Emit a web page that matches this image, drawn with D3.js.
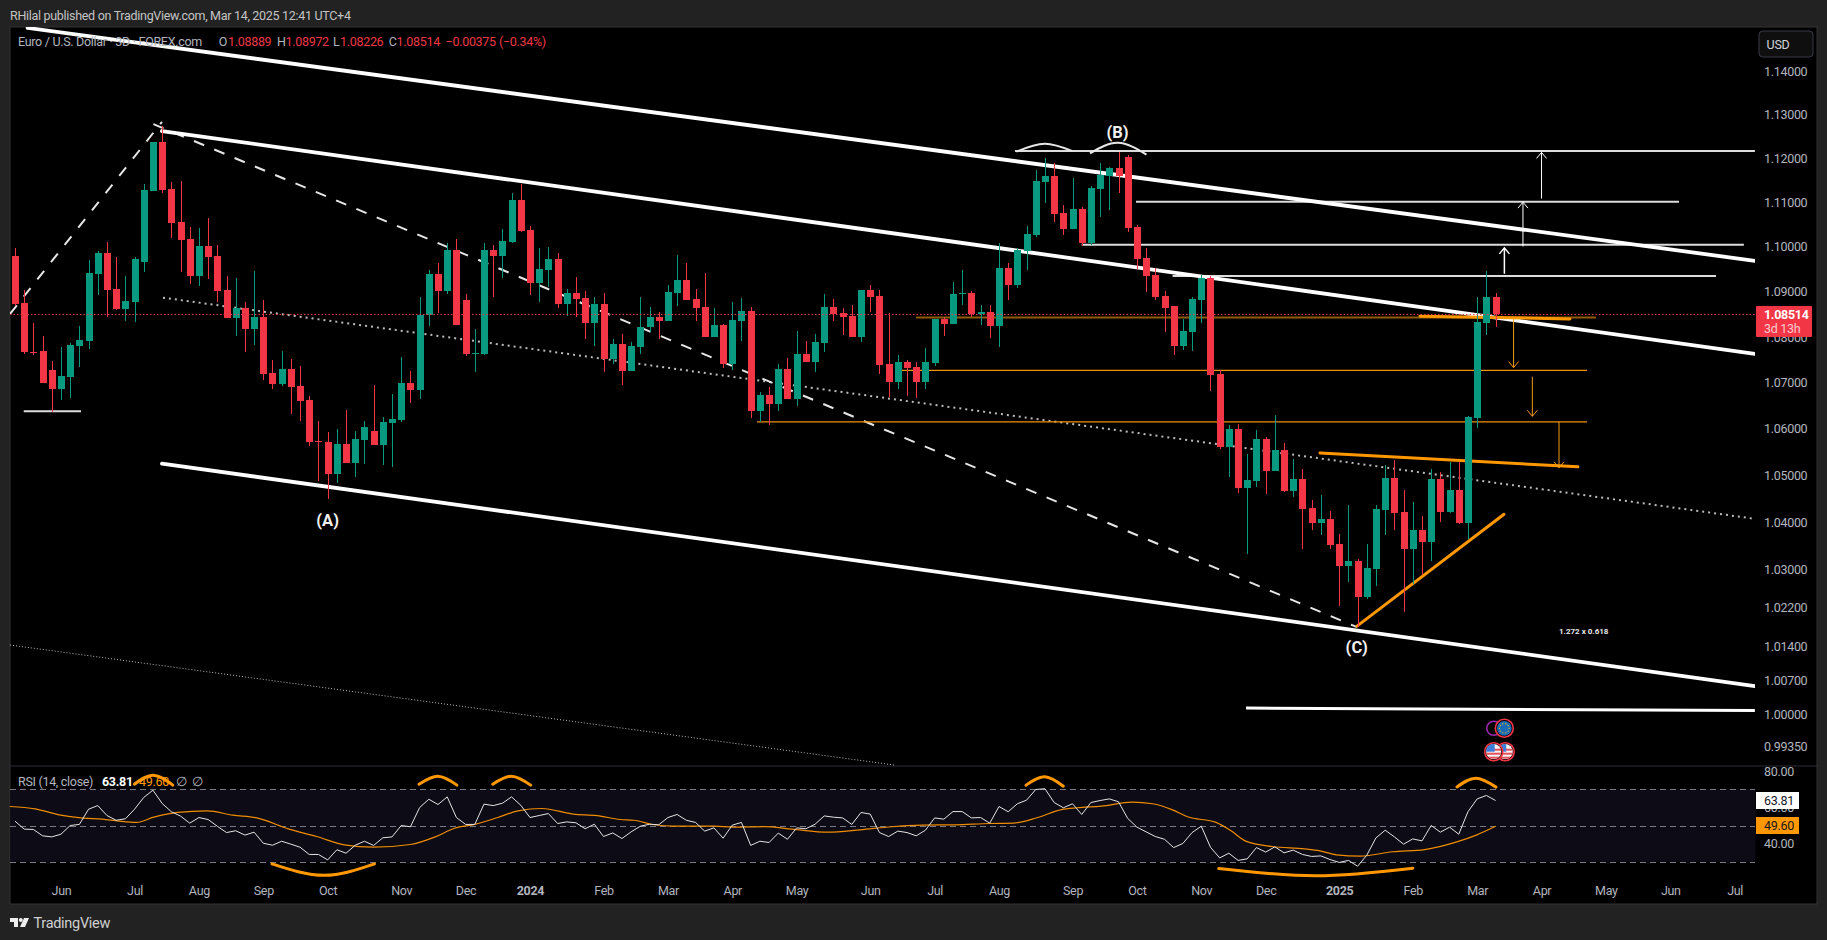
<!DOCTYPE html>
<html><head><meta charset="utf-8">
<script src="https://cdn.jsdelivr.net/npm/d3@7"></script>
<style>
html,body{margin:0;padding:0;background:#222222;overflow:hidden}
svg{display:block}
text{font-family:Roboto,"Liberation Sans",sans-serif;font-size:12.5px;letter-spacing:-.3px;fill:#b2b5be}
</style></head><body>
<svg id="c" width="1827" height="940"></svg>
<script>
// ---------- candle data (one 3D bar per position) ----------
const opens=[1.0980,1.0875,1.0767,1.0770,1.0728,1.0686,1.0713,1.0780,1.0791,1.0940,1.0986,1.0906,1.0862,1.0878,1.0966,1.1127,1.1238,1.1131,1.1056,1.1018,1.0935,1.1002,1.0980,1.0904,1.0843,1.0865,1.0818,1.0845,1.0721,1.0697,1.0730,1.0693,1.0662,1.0574,1.0571,1.0503,1.0567,1.0526,1.0576,1.0595,1.0565,1.0612,1.0619,1.0699,1.0684,1.0849,1.0940,1.0902,1.0993,1.0882,1.0763,1.0763,1.0993,1.0980,1.1011,1.1106,1.1038,1.0920,1.0949,1.0973,1.0873,1.0897,1.0886,1.0832,1.0873,1.0752,1.0785,1.0726,1.0778,1.0821,1.0845,1.0836,1.0897,1.0926,1.0884,1.0867,1.0801,1.0827,1.0741,1.0836,1.0858,1.0638,1.0673,1.0653,1.0730,1.0664,1.0763,1.0746,1.0787,1.0867,1.0853,1.0847,1.0801,1.0904,1.0891,1.0741,1.0702,1.0746,1.0735,1.0702,1.0743,1.0840,1.0829,1.0896,1.0897,1.0851,1.0856,1.0825,1.0953,1.0915,1.0991,1.1027,1.1147,1.1161,1.1076,1.1040,1.1086,1.1009,1.1131,1.1161,1.1179,1.1204,1.1045,1.0975,1.0938,1.0891,1.0869,1.0780,1.0812,1.0882,1.0931,1.0719,1.0560,1.0599,1.0473,1.0488,1.0578,1.0509,1.0554,1.0467,1.0492,1.0430,1.0398,1.0407,1.0354,1.0307,1.0318,1.0242,1.0301,1.0426,1.0494,1.0422,1.0343,1.0383,1.0358,1.0492,1.0422,1.0469,1.0398,1.0623,1.0832,1.08889];
const highs=[1.0998,1.0904,1.0832,1.0803,1.0748,1.0778,1.0787,1.0825,1.0971,1.0991,1.1011,1.0977,1.0935,1.0977,1.1141,1.1238,1.1274,1.1147,1.1150,1.1045,1.1042,1.1065,1.1005,1.0935,1.0931,1.0878,1.0947,1.0882,1.0750,1.0770,1.0752,1.0737,1.0671,1.0617,1.0593,1.0599,1.0641,1.0595,1.0617,1.0695,1.0626,1.0675,1.0757,1.0726,1.0889,1.0949,1.0964,1.1009,1.1018,1.0895,1.0818,1.1009,1.1005,1.1040,1.1122,1.1141,1.1047,1.0998,1.1000,1.0986,1.0906,1.0933,1.0902,1.0889,1.0897,1.0796,1.0807,1.0789,1.0889,1.0867,1.0856,1.0915,1.0982,1.0964,1.0906,1.0942,1.0865,1.0829,1.0878,1.0886,1.0867,1.0680,1.0691,1.0741,1.0754,1.0814,1.0791,1.0807,1.0895,1.0884,1.0865,1.0871,1.0904,1.0915,1.0904,1.0853,1.0761,1.0750,1.0746,1.0776,1.0840,1.0845,1.0922,1.0949,1.0902,1.0871,1.0871,1.1009,1.0964,1.0998,1.1047,1.1174,1.1202,1.1190,1.1095,1.1156,1.1090,1.1138,1.1190,1.1181,1.1215,1.1209,1.1049,1.0998,1.0953,1.0902,1.0869,1.0840,1.0889,1.0938,1.0935,1.0728,1.0608,1.0610,1.0545,1.0597,1.0582,1.0630,1.0569,1.0535,1.0513,1.0447,1.0458,1.0424,1.0375,1.0437,1.0322,1.0354,1.0437,1.0522,1.0533,1.0469,1.0443,1.0413,1.0513,1.0507,1.0528,1.0528,1.0628,1.0889,1.0947,1.08972];
const lows=[1.0869,1.0763,1.0761,1.0699,1.0636,1.0662,1.0666,1.0735,1.0774,1.0893,1.0845,1.0860,1.0836,1.0834,1.0944,1.1127,1.1122,1.1020,1.0944,1.0917,1.0913,1.0929,1.0878,1.0843,1.0803,1.0767,1.0783,1.0706,1.0686,1.0693,1.0632,1.0617,1.0563,1.0488,1.0449,1.0484,1.0526,1.0496,1.0524,1.0565,1.0522,1.0518,1.0615,1.0656,1.0664,1.0825,1.0853,1.0895,1.0827,1.0759,1.0724,1.0761,1.0889,1.0931,1.1009,1.1034,1.0893,1.0878,1.0911,1.0865,1.0847,1.0845,1.0796,1.0780,1.0724,1.0741,1.0695,1.0726,1.0763,1.0812,1.0796,1.0836,1.0869,1.0882,1.0836,1.0801,1.0801,1.0732,1.0728,1.0791,1.0623,1.0615,1.0608,1.0638,1.0664,1.0649,1.0746,1.0724,1.0767,1.0836,1.0805,1.0801,1.0789,1.0856,1.0719,1.0669,1.0686,1.0671,1.0666,1.0686,1.0737,1.0803,1.0829,1.0871,1.0845,1.0827,1.0798,1.0778,1.0882,1.0908,1.0949,1.1022,1.1099,1.1056,1.1027,1.1040,1.1002,1.1005,1.1067,1.1083,1.1122,1.1034,1.0951,1.0900,1.0882,1.0812,1.0761,1.0772,1.0770,1.0832,1.0682,1.0556,1.0496,1.0462,1.0333,1.0475,1.0460,1.0509,1.0464,1.0454,1.0343,1.0383,1.0373,1.0343,1.0224,1.0274,1.0181,1.0238,1.0265,1.0373,1.0383,1.0211,1.0270,1.0288,1.0318,1.0400,1.0420,1.0396,1.0364,1.0601,1.0805,1.08226];
const closes=[1.0873,1.0767,1.0766,1.0699,1.0686,1.0715,1.0783,1.0793,1.0942,1.0986,1.0904,1.0862,1.0880,1.0973,1.1129,1.1238,1.1129,1.1054,1.1016,1.0935,1.1002,1.0977,1.0902,1.0843,1.0865,1.0818,1.0845,1.0719,1.0697,1.0730,1.0691,1.0660,1.0571,1.0573,1.0503,1.0567,1.0526,1.0578,1.0604,1.0565,1.0615,1.0621,1.0699,1.0684,1.0849,1.0940,1.0902,1.0993,1.0827,1.0763,1.0765,1.0993,1.0980,1.1013,1.1106,1.1036,1.0920,1.0951,1.0973,1.0873,1.0897,1.0884,1.0832,1.0873,1.0752,1.0785,1.0726,1.0780,1.0823,1.0845,1.0836,1.0900,1.0926,1.0882,1.0865,1.0801,1.0827,1.0741,1.0838,1.0858,1.0638,1.0673,1.0653,1.0730,1.0664,1.0763,1.0746,1.0789,1.0867,1.0851,1.0845,1.0801,1.0904,1.0889,1.0739,1.0702,1.0746,1.0732,1.0702,1.0746,1.0840,1.0829,1.0895,1.0897,1.0851,1.0856,1.0825,1.0953,1.0915,1.0993,1.1029,1.1150,1.1161,1.1074,1.1040,1.1086,1.1009,1.1134,1.1163,1.1179,1.1161,1.1042,1.0973,1.0935,1.0889,1.0865,1.0780,1.0814,1.0884,1.0931,1.0717,1.0560,1.0599,1.0473,1.0490,1.0578,1.0509,1.0554,1.0467,1.0492,1.0428,1.0398,1.0407,1.0352,1.0307,1.0318,1.0242,1.0303,1.0428,1.0494,1.0420,1.0343,1.0383,1.0358,1.0492,1.0422,1.0469,1.0398,1.0626,1.0834,1.0889,1.08514];
// ---------- RSI data ----------
const rsiValues=[52.4,48.0,47.8,44.3,43.7,45.2,50.0,50.6,59.0,61.0,55.5,52.9,53.7,59.0,65.5,69.5,62.2,57.6,55.2,51.3,54.4,53.3,49.6,46.1,47.1,44.7,46.3,40.2,39.1,41.3,39.7,38.0,34.0,34.0,31.0,36.6,34.7,39.1,41.3,39.0,43.2,43.7,50.0,49.3,59.9,64.5,61.6,65.8,54.4,50.6,50.6,61.8,61.0,62.3,65.8,61.2,54.4,55.5,56.6,51.1,52.0,51.5,48.2,50.7,43.9,45.9,42.8,46.5,49.6,50.7,50.4,54.4,56.1,52.9,51.7,46.9,48.7,43.0,50.2,51.7,39.0,41.3,40.6,45.8,42.4,48.7,48.2,50.7,55.3,54.6,54.2,50.6,57.2,56.3,46.1,43.9,46.9,46.1,44.3,47.4,54.2,53.5,57.7,57.7,54.2,54.4,51.3,60.5,57.6,62.0,64.0,69.9,70.3,62.7,59.8,62.0,56.1,62.7,63.8,64.7,63.1,53.9,49.1,46.5,43.9,42.4,37.8,40.1,46.1,49.6,38.0,32.1,34.7,30.7,31.6,37.8,35.3,38.2,34.9,36.4,34.0,32.9,33.2,31.2,29.6,30.7,27.5,33.6,43.2,47.4,43.7,39.7,42.6,41.5,50.0,46.3,49.1,45.2,57.6,64.7,66.6,63.81];
const rsiMaBars=[-0.56,2.2,4.8,7.4,9.5,11.3,13.2,15.1,17.7,20.9,23.7,26.3,29.8,32.8,35.8,39,43,45.7,47.8,50,52.5,54.7,57.3,60.7,63.3,65.8,67.3,69.5,71.6,76,78.1,81.5,84.5,88.4,91.9,95.3,98.7,102.2,106,108.6,111.2,113.8,115.5,118.1,121.5,123.7,125.8,127.5,130.6,132.2,133.9,136.7,140.2,141.9,143.7,146.3,149.8,153.3,156.7,158.9,161];
const rsiMaValues=[60.5,59.2,55.9,54.1,53.5,52.4,51.7,54.6,57.2,58.1,55.7,54.2,48.0,43.9,39.3,38,39.5,43.7,48.5,50.6,54.4,58.1,59.4,56.3,55.5,53.3,52.9,50.4,49.6,49.6,49.1,49.4,48.0,46.3,47.6,49.3,50.2,50.4,51.1,51.3,54.4,58.8,59.8,60.7,62.9,62.0,58.8,54.8,51.7,47.2,41.2,38.4,37.1,36,33.8,33.1,35.5,36.7,40.8,44.7,49.6];
const rsiBands=[70,50,30];
// ---------- axis labels ----------
const priceTicks=[1.14,1.13,1.12,1.11,1.10,1.09,1.08,1.07,1.06,1.05,1.04,1.03,1.022,1.014,1.007,1.00,0.9935];
const rsiTicks=[80,60,40];
const timeBars=[5,13,20,27,34,42,49,56,64,71,78,85,93,100,107,115,122,129,136,144,152,159,166,173,180,187];
const timeLabels=["Jun","Jul","Aug","Sep","Oct","Nov","Dec","2024","Feb","Mar","Apr","May","Jun","Jul","Aug","Sep","Oct","Nov","Dec","2025","Feb","Mar","Apr","May","Jun","Jul"];
// ---------- drawings as [bar, price] ----------
const channelLines=[[[1.38,1.1502],[189.2,1.0969]],[[15.98,1.1263],[189.2,1.0763]],[[15.98,1.0525],[189.2,1.00584]]];
const bottomLine=[[133.87,1.00136],[189.2,1.00085]];
const dashedLegs=[[[-0.54,1.0851],[15.98,1.1284]],[[15.05,1.1279],[145.93,1.01802]]];
const dottedMid=[[16.09,1.0887],[188.9,1.0408]];
const dottedLow=[[-0.54,1.0143],[95.65,0.98979]];
const whiteLevels=[[0.95,7.18,1.0638],[108.74,189.2,1.1217],[121.9,180.95,1.1102],[115.99,188.0,1.1005],[125.88,184.97,1.0935]];
const darkOrangeLevel=[97.98,171.92,1.0843];
const thinOrangeLevels=[[96.45,170.95,1.0727],[80.68,170.95,1.0615]];
const thickOrangeLines=[[[152.78,1.0846],[169.09,1.0840]],[[141.91,1.0548],[169.96,1.0518]],[[145.93,1.01822],[161.92,1.0417]]];
const whiteArrows=[[166.0,1.1109,1.1214,1],[163.98,1.1001,1.1101,1],[161.96,1.0940,1.0998,1.5]];
const orangeArrows=[[162.96,1.0840,1.0733],[165.0,1.0713,1.0627],[167.9,1.0615,1.0516]];
const whiteArcs=[[[108.9,1.1216],[111.98,1.1234],[115.0,1.1217]],[[116.9,1.1212],[119.94,1.1236],[123.04,1.1209]]];
const rsiArcs=[[[12.98,72.8],[15.05,77.8],[17.16,72.3]],[[43.93,72.8],[46.0,77.2],[48.06,72.3]],[[51.95,72.8],[54.0,77.2],[56.07,72.3]],[[27.95,28.8],[33.6,22.5],[39.09,28.8]],[[109.94,72.3],[111.98,76.9],[114.0,71.7]],[[130.9,26.2],[141.5,22.2],[152.0,26.4]],[[156.8,71.3],[158.87,76.1],[161.05,71.2]]];
const waveLabels=[["(A)",34,1.0401],["(B)",119.9,1.1256],["(C)",145.9,1.0135]];
const fibNote=["1.272 x 0.618",167.9,1.0170];
const legendParts=[["Euro / U.S. Dollar · 3D · FOREX.com",18,"#b2b5be"],["O",218.7,"#b2b5be"],["1.08889",228,"#f23645"],["H",277,"#b2b5be"],["1.08972",285.5,"#f23645"],["L",333,"#b2b5be"],["1.08226",340,"#f23645"],["C",388.7,"#b2b5be"],["1.08514",396.6,"#f23645"],["−0.00375",445.6,"#f23645"],["(−0.34%)",499,"#f23645"]];
const lastPrice=1.08514,rsiLast=63.81,maLast=49.60;

// ---------- layout & scales ----------
const GREEN="#089981",RED="#f23645",ORANGE="#ff9800";
const L=10,R=1755,T=27,PB=766,FR=1817,FB=904;
const x=d3.scaleLinear().domain([0,161]).range([15,15+9.196*161]);
const y=d3.scaleLog().domain([1.14,1.0]).range([71.7,714.7]);
const ry=d3.scaleLinear().domain([70,30]).range([789.3,861.7]);
const svg=d3.select("#c");
const defs=svg.append("defs");
defs.append("clipPath").attr("id","pane").append("rect").attr("x",L).attr("y",T).attr("width",R-L).attr("height",PB-T);
svg.append("rect").attr("x",L).attr("y",T).attr("width",FR-L).attr("height",FB-T).attr("fill","#000").attr("stroke","#333").attr("stroke-width",1);
svg.append("line").attr("x1",L).attr("x2",FR).attr("y1",PB).attr("y2",PB).attr("stroke","#2a2e39");

const pane=svg.append("g").attr("clip-path","url(#pane)");
const pline=d3.line().x(d=>x(d[0])).y(d=>y(d[1]));
const seg=(g,pts,col,w,dash,cap)=>g.append("path").attr("d",pline(pts)).attr("fill","none").attr("stroke",col).attr("stroke-width",w).attr("stroke-dasharray",dash||null).attr("stroke-linecap",cap||"butt");
seg(pane,dottedLow,"#bbb",1,"1 2");
seg(pane,dottedMid,"#bcbcbc",2,"2 4");
dashedLegs.forEach(d=>seg(pane,d,"#e6e6e6",2,"11 11"));
whiteLevels.forEach(l=>seg(pane,[[l[0],l[2]],[l[1],l[2]]],"#dcdcdc",2));
channelLines.forEach(d=>seg(pane,d,"#fff",3.8,null,"round"));
seg(pane,bottomLine,"#fff",3);
seg(pane,[[darkOrangeLevel[0],darkOrangeLevel[2]],[darkOrangeLevel[1],darkOrangeLevel[2]]],"#8f5c05",2);
thinOrangeLevels.forEach(l=>seg(pane,[[l[0],l[2]],[l[1],l[2]]],"#f09000",1.3));
thickOrangeLines.forEach(d=>seg(pane,d,ORANGE,3,null,"round"));
const arcLine=d3.line().x(d=>x(d[0])).y(d=>y(d[1])).curve(d3.curveNatural);
whiteArcs.forEach(a=>pane.append("path").attr("d",arcLine(a)).attr("fill","none").attr("stroke","#e8e8e8").attr("stroke-width",2));
function arrow(b,from,to,col,w){
  const X=x(b),Y0=y(from),Y1=y(to),s=Y1<Y0?1:-1;
  const p=d3.path();p.moveTo(X,Y0);p.lineTo(X,Y1);p.moveTo(X-5,Y1+s*6);p.lineTo(X,Y1);p.lineTo(X+5,Y1+s*6);
  pane.append("path").attr("d",p.toString()).attr("fill","none").attr("stroke",col).attr("stroke-width",w);
}
whiteArrows.forEach(a=>arrow(a[0],a[1],a[2],"#fff",a[3]));
orangeArrows.forEach(a=>arrow(a[0],a[1],a[2],"#f59c12",1));

// candles
const bars=d3.range(opens.length).map(i=>({i,o:opens[i],h:highs[i],l:lows[i],c:closes[i]}));
const cg=pane.append("g").attr("shape-rendering","crispEdges").selectAll("g").data(bars).join("g");
cg.append("line").attr("x1",d=>Math.round(x(d.i))+.5).attr("x2",d=>Math.round(x(d.i))+.5).attr("y1",d=>y(d.h)).attr("y2",d=>y(d.l)).attr("stroke",d=>d.c>=d.o?GREEN:RED).attr("stroke-width",1);
cg.append("rect").attr("x",d=>Math.round(x(d.i))-3).attr("width",7).attr("y",d=>y(Math.max(d.o,d.c))).attr("height",d=>Math.max(1,Math.abs(y(d.o)-y(d.c)))).attr("fill",d=>d.c>=d.o?GREEN:RED);

// last price line
const lastY=Math.round(y(lastPrice))+.5;
pane.append("line").attr("x1",L).attr("x2",R).attr("y1",lastY).attr("y2",lastY).attr("stroke",RED).attr("stroke-width",1).attr("stroke-dasharray","1.5 2");

// wave labels
waveLabels.forEach(l=>svg.append("text").attr("x",x(l[1])).attr("y",y(l[2])).attr("text-anchor","middle").attr("dominant-baseline","middle").style("font-size","16.5px").style("font-weight",700).style("letter-spacing","0").style("fill","#f0f0f0").text(l[0]));
svg.append("text").attr("x",x(fibNote[1])).attr("y",y(fibNote[2])).attr("dominant-baseline","middle").style("font-size","8px").style("font-weight",700).style("letter-spacing","0").style("fill","#e8e8e8").text(fibNote[0]);

// event icons
function ring(cx,cy,r,col,fill){svg.append("circle").attr("cx",cx).attr("cy",cy).attr("r",r).attr("fill",fill).attr("stroke",col).attr("stroke-width",1.6);}
function usFlag(cx,cy){
  const id="us"+Math.round(cx);
  defs.append("clipPath").attr("id",id).append("circle").attr("cx",cx).attr("cy",cy).attr("r",7.6);
  ring(cx,cy,9,RED,"#000");
  const g=svg.append("g").attr("clip-path",`url(#${id})`);
  g.append("rect").attr("x",cx-8).attr("y",cy-8).attr("width",16).attr("height",16).attr("fill","#f6f6f6");
  d3.range(3).forEach(k=>g.append("rect").attr("x",cx-8).attr("y",cy-3+k*4).attr("width",16).attr("height",2).attr("fill","#e8505b"));
  g.append("rect").attr("x",cx-8).attr("y",cy-8).attr("width",9).attr("height",8).attr("fill","#3b7dd8");
}
const eventBarsA=[160.8,161.95],eventBarsB=[160.8,162.05];
ring(x(eventBarsA[0]),728.3,7,"#9c27b0","#000");
ring(x(eventBarsA[1]),728.3,9,RED,"#000");
svg.append("circle").attr("cx",x(eventBarsA[1])).attr("cy",728.3).attr("r",7.4).attr("fill","#1b6cb5");
d3.range(10).forEach(k=>svg.append("circle").attr("cx",x(eventBarsA[1])+4.8*Math.cos(k*Math.PI/5)).attr("cy",728.3+4.8*Math.sin(k*Math.PI/5)).attr("r",.7).attr("fill","#e8b923"));
usFlag(x(eventBarsB[1]),751.7);usFlag(x(eventBarsB[0]),751.7);

// RSI pane
svg.append("rect").attr("x",L+.5).attr("y",ry(70)).attr("width",R-L).attr("height",ry(30)-ry(70)).attr("fill","#0d0b16");
rsiBands.forEach(v=>svg.append("line").attr("x1",L).attr("x2",R).attr("y1",Math.round(ry(v))+.5).attr("y2",Math.round(ry(v))+.5).attr("stroke","#787b86").attr("stroke-width",1).attr("stroke-dasharray","6 4"));
const maLine=d3.line().x((d,i)=>x(rsiMaBars[i])).y(d=>ry(d)).curve(d3.curveMonotoneX);
svg.append("path").attr("d",maLine(rsiMaValues)).attr("fill","none").attr("stroke","#f08c00").attr("stroke-width",1.2);
const rsiLine=d3.line().x((d,i)=>x(i)).y(d=>ry(d));
svg.append("path").attr("d",rsiLine(rsiValues)).attr("fill","none").attr("stroke","#e4e4e4").attr("stroke-width",1);
const rarc=d3.line().x(d=>x(d[0])).y(d=>ry(d[1])).curve(d3.curveNatural);
rsiArcs.forEach(a=>svg.append("path").attr("d",rarc(a)).attr("fill","none").attr("stroke",ORANGE).attr("stroke-width",3).attr("stroke-linecap","round"));

// axes
const clean=g=>{g.select(".domain").remove();g.selectAll(".tick line").remove();g.selectAll("text").attr("fill",null);};
const priceAxis=d3.axisRight(y).tickValues(priceTicks).tickFormat(d3.format(".5f")).tickSize(0).tickPadding(0);
svg.append("g").attr("transform",`translate(1764,0)`).call(priceAxis).call(clean);
const rsiAxis=d3.axisRight(ry).tickValues(rsiTicks).tickFormat(d3.format(".2f")).tickSize(0).tickPadding(0);
svg.append("g").attr("transform",`translate(1764,0)`).call(rsiAxis).call(clean);
const timeAxis=d3.axisBottom(x).tickValues(timeBars).tickFormat((d,i)=>timeLabels[i]).tickSize(0).tickPadding(0);
const tg=svg.append("g").attr("transform",`translate(0,884)`).call(timeAxis).call(clean);
tg.selectAll("text").attr("dy",0).attr("y",11).style("font-weight",d=>timeLabels[timeBars.indexOf(d)].length===4?700:400);

// legend
legendParts.forEach(p=>svg.append("text").attr("x",p[1]).attr("y",46).style("fill",p[2]).text(p[0]));
svg.append("text").attr("x",18).attr("y",786).text("RSI (14, close)");
svg.append("text").attr("x",102).attr("y",786).style("fill","#fff").style("font-weight",700).text(rsiLast.toFixed(2));
svg.append("text").attr("x",139).attr("y",786).style("fill",ORANGE).text(maLast.toFixed(2));
svg.append("text").attr("x",176).attr("y",786).text("∅");
svg.append("text").attr("x",191.8).attr("y",786).text("∅");

// header / footer
svg.append("text").attr("x",10).attr("y",19.5).style("fill","#c4c4c4").text("RHilal published on TradingView.com, Mar 14, 2025 12:41 UTC+4");
const logo=svg.append("g").attr("fill","#eee");
logo.append("path").attr("d","M10 918h8v9h-4v-5h-4z");
logo.append("circle").attr("cx",20.8).attr("cy",920).attr("r",2);
logo.append("path").attr("d","M24 918h5l-4 9h-5z");
svg.append("text").attr("x",33.5).attr("y",928).style("font-size","14.5px").style("fill","#d0d0d0").text("TradingView");

// USD button
svg.append("rect").attr("x",1759).attr("y",31).attr("width",54).attr("height",26).attr("rx",4).attr("fill","#0f0f0f").attr("stroke","#363a45");
svg.append("text").attr("x",1778).attr("y",48.5).attr("text-anchor","middle").style("fill","#d1d4dc").text("USD");

// price tags
svg.append("rect").attr("x",1756).attr("y",306).attr("width",56).attr("height",31).attr("rx",1).attr("fill",RED);
svg.append("text").attr("x",1764).attr("y",319).style("fill","#fff").style("font-weight",700).text(lastPrice.toFixed(5));
svg.append("text").attr("x",1764).attr("y",333).style("fill","#fbc9ce").text("3d 13h");
svg.append("rect").attr("x",1756).attr("y",792).attr("width",43).attr("height",17).attr("fill","#fff");
svg.append("text").attr("x",1764).attr("y",805).style("fill","#131722").text(rsiLast.toFixed(2));
svg.append("rect").attr("x",1756).attr("y",817).attr("width",43).attr("height",17).attr("fill",ORANGE);
svg.append("text").attr("x",1764).attr("y",830).style("fill","#131722").text(maLast.toFixed(2));
</script></body></html>
